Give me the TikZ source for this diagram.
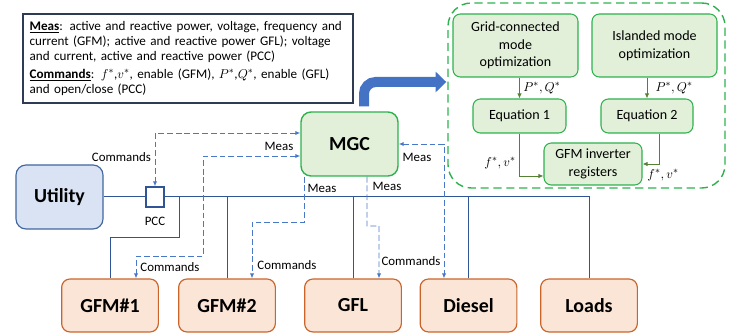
\documentclass[tikz,border=0pt]{standalone}
\usepackage{fontspec}
\setmainfont{Carlito}
\usetikzlibrary{arrows.meta,positioning}
\definecolor{devline}{HTML}{C9652A}
\definecolor{devfill}{HTML}{FBE5D6}
\definecolor{optline}{HTML}{2DB24E}
\definecolor{optfill}{HTML}{E2F0D9}
\definecolor{optarrowc}{HTML}{548235}
\definecolor{utilline}{HTML}{41669E}
\definecolor{utilfill}{HTML}{DAE3F3}
\definecolor{busblue}{HTML}{2F5597}
\definecolor{msgblue}{HTML}{4A78C8}
\definecolor{bigblue}{HTML}{4472C4}
\definecolor{infoline}{HTML}{2F3B55}
\tikzset{
  devbox/.style={draw=devline,fill=devfill,rounded corners=0.25cm,line width=1pt,minimum width=2.9cm,minimum height=1.59cm,font=\bfseries\fontsize{17}{20}\selectfont},
  optbox/.style={draw=optline,fill=optfill,rounded corners=0.22cm,line width=0.9pt,align=center,font=\fontsize{12}{15}\selectfont,inner sep=2pt},
  busline/.style={draw=busblue,line width=0.85pt},
  msgline/.style={draw=msgblue,line width=0.8pt,dash pattern=on 5pt off 2.5pt},
  optarrow/.style={draw=optarrowc,line width=0.7pt,-{Latex[length=1.5mm,width=1.3mm]}},
  lbl/.style={font=\fontsize{11}{12}\selectfont,inner sep=1pt},
}
\begin{document}
\begin{tikzpicture}[>={Latex[length=1.5mm,width=1.3mm]}]
\useasboundingbox (0,0) rectangle (22.29,10.05);
% legend box
\node[draw=infoline,line width=0.9pt,minimum width=9.9cm,minimum height=2.67cm,text width=9.5cm,align=left,font=\fontsize{11.2}{12.8}\selectfont,inner sep=0.2cm] (info) at (5.64,8.295) {\underline{\textbf{Meas}}: active and reactive power, voltage, frequency and\\current (GFM); active and reactive power GFL); voltage\\and current, active and reactive power (PCC)\\[2.5pt]\underline{\textbf{Commands}}: $f^*$,$v^*$, enable (GFM), $P^*$,$Q^*$, enable (GFL)\\and open/close (PCC)};
% controller
\node[draw=optline,fill=optfill,rounded corners=0.3cm,line width=1.2pt,minimum width=2.91cm,minimum height=1.92cm,font=\bfseries\fontsize{17}{20}\selectfont] (mgc) at (10.485,5.73) {MGC};
\node[draw=utilline,fill=utilfill,rounded corners=0.3cm,line width=1pt,minimum width=2.61cm,minimum height=1.92cm,font=\bfseries\fontsize{17}{20}\selectfont] (utility) at (1.785,4.14) {Utility};
\node[draw=busblue,line width=1.2pt,fill=white,minimum width=0.54cm,minimum height=0.6cm,inner sep=0pt] (pcc) at (4.65,4.14) {};
\node[lbl,below=0.25cm of pcc] (pcclbl) {PCC};
% optimisation block
\node[draw=optline,dashed,dash pattern=on 7pt off 4pt,line width=1.2pt,rounded corners=0.7cm,minimum width=8.31cm,minimum height=5.55cm] (ctrl) at (17.595,7.185) {};
\node[optbox,minimum width=3.75cm,minimum height=1.89cm] (grid) at (15.465,8.685) {Grid-connected\\mode\\optimization};
\node[optbox,minimum width=3.75cm,minimum height=1.89cm] (isl) at (19.635,8.685) {Islanded mode\\optimization};
\node[optbox,minimum width=2.79cm,minimum height=1.02cm] (eq1) at (15.585,6.57) {Equation 1};
\node[optbox,minimum width=2.76cm,minimum height=1.02cm] (eq2) at (19.41,6.57) {Equation 2};
\node[optbox,minimum width=2.94cm,minimum height=1.26cm] (reg) at (17.79,5.13) {GFM inverter\\registers};
\draw[optarrow] (grid.south -| eq1.north) -- (eq1.north) node[lbl,midway,right=2pt] {$P^*,Q^*$};
\draw[optarrow] (isl.south -| eq2.north) -- (eq2.north) node[lbl,midway,right=6pt] {$P^*,Q^*$};
\draw[optarrow] (eq1.south) |- ([yshift=-0.36cm]reg.west) node[lbl,pos=0.35,left=2pt] {$f^*,v^*$};
\draw[optarrow] ([xshift=0.36cm]eq2.south) |- (reg.east) node[lbl,pos=0.5,below=3pt,xshift=0.12cm] {$f^*,v^*$};
% big arrow
\draw[bigblue,line width=0.3cm,rounded corners=0.35cm,-{Triangle[width=0.6cm,length=0.32cm]}] ([xshift=0.435cm,yshift=0.15cm]mgc.north) |- ([yshift=0.405cm,xshift=-0.03cm]ctrl.west);
% devices
\node[devbox] (gfm1) at (3.30,0.885) {GFM\#1};
\node[devbox] (gfm2) at (6.81,0.885) {GFM\#2};
\node[devbox] (gfl) at (10.59,0.885) {GFL};
\node[devbox] (diesel) at (14.055,0.885) {Diesel};
\node[devbox] (loads) at (17.67,0.885) {Loads};
% bus
\draw[busline] (utility.east) -- (pcc.west);
\draw[busline] (pcc.east) -| (loads.north);
\draw[busline] (5.37,4.14) -- (5.37,2.91) -| (gfm1.north);
\draw[busline] (gfm2.north) -- (gfm2.north |- pcc.east);
\draw[busline] (gfl.north) -- (gfl.north |- pcc.east);
\draw[busline] (diesel.north) -- (diesel.north |- pcc.east);
% signals
\draw[msgline,<->] ([yshift=0.33cm]mgc.west) -| (pcc.north);
\node[lbl,anchor=east] at (4.57,5.34) {Commands};
\draw[msgline,<->] ([yshift=-0.36cm]mgc.west) -| (6.09,2.37) -| ([xshift=0.78cm]gfm1.north);
\node[lbl] at (8.37,5.67) {Meas};
\node[lbl] at (5.10,2.04) {Commands};
\draw[msgline,->] ([xshift=-1.365cm]mgc.south) |- (7.56,3.39) -- ([xshift=0.75cm]gfm2.north);
\node[lbl] at (9.66,4.41) {Meas};
\node[lbl] at (8.61,2.10) {Commands};
\draw[msgline,->] ([xshift=0.525cm]mgc.south) |- (11.37,3.27) -- ([xshift=0.78cm]gfl.north);
\node[lbl] at (11.61,4.47) {Meas};
\node[lbl] at (12.33,2.22) {Commands};
\draw[msgline,<->] (mgc.east) -| ([xshift=-0.735cm]diesel.north);
\node[lbl] at (12.51,5.34) {Meas};
\end{tikzpicture}
\end{document}
